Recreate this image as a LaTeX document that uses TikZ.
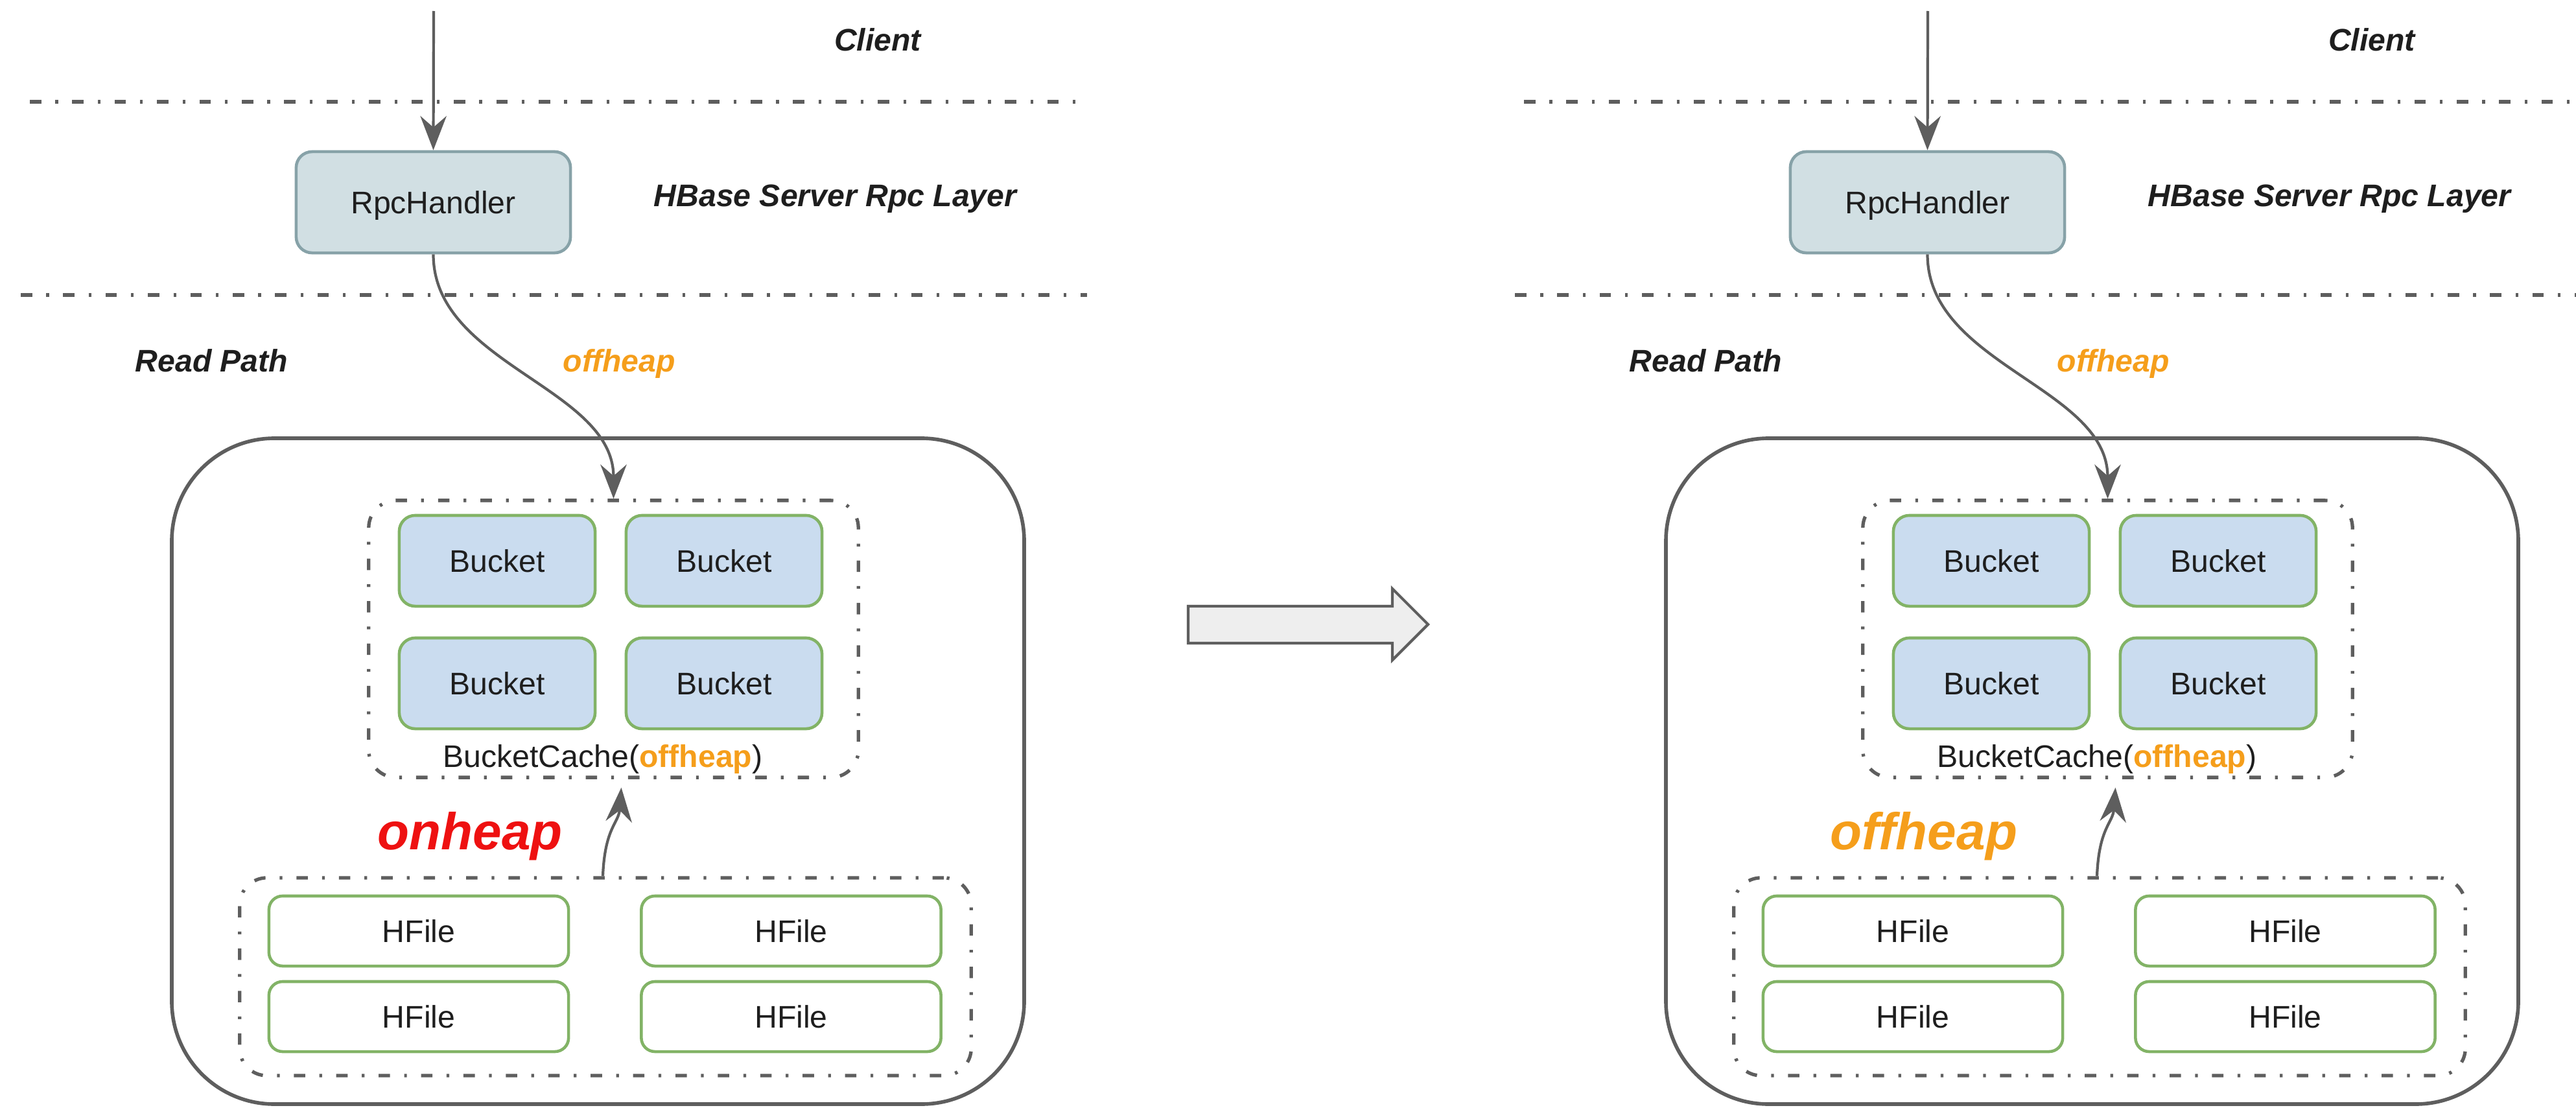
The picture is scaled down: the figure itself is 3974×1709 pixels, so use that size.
\documentclass[tikz,border=0pt]{standalone}
\usepackage{fontspec}
\setmainfont{Liberation Sans}
\usetikzlibrary{arrows.meta,calc}

\definecolor{rpcfill}{HTML}{D1DFE3}
\definecolor{rpcdraw}{HTML}{87A2A8}
\definecolor{bktfill}{HTML}{CADCEF}
\definecolor{grn}{HTML}{82B366}
\definecolor{lnc}{HTML}{5E5E5E}
\definecolor{orng}{HTML}{F59E1B}
\definecolor{redl}{HTML}{EE1111}
\definecolor{txt}{HTML}{1E1E1E}
\definecolor{arrfill}{HTML}{EEEEEE}

\newcommand\fsN{\fontsize{13.7pt}{16pt}\selectfont}
\newcommand\fsB{\fontsize{22.8pt}{26pt}\selectfont}

\tikzset{
  ddash/.style={draw=lnc, line width=1.8pt, dash pattern=on 5pt off 6.2pt on 1.2pt off 6.2pt},
  cdash/.style={draw=lnc, line width=1.5pt, dash pattern=on 5pt off 6.2pt on 1.2pt off 6.2pt, rounded corners=12pt, minimum width=1cm, minimum height=1cm, inner sep=0pt},
  outer/.style={draw=lnc, line width=1.6pt, rounded corners=45pt},
  arr/.style={draw=lnc, line width=1.2pt, -{Stealth[length=15pt,width=11.5pt,inset=5pt]}},
  boxtext/.style={font=\fsN, text=txt, text height=9.9pt, text depth=0pt, inner sep=0pt},
  rpcbox/.style={boxtext, draw=rpcdraw, fill=rpcfill, line width=1.3pt, rounded corners=7pt, minimum width=4.23cm, minimum height=1.56cm},
  bkt/.style={boxtext, draw=grn, fill=bktfill, line width=1.3pt, rounded corners=7pt, minimum width=3.02cm, minimum height=1.40cm},
  hfile/.style={boxtext, draw=grn, fill=white, line width=1.3pt, rounded corners=6pt, minimum width=4.62cm, minimum height=1.08cm},
  lbl/.style={font=\fsN\bfseries\itshape, text=txt, inner sep=0pt},
  biglbl/.style={font=\fsB\bfseries\itshape, inner sep=0pt},
  bigarrow/.style={draw=lnc, fill=arrfill, line width=1.2pt, line join=miter}
}

% #1 suffix, #2 x offset, #3 big label, #4 its colour, #5 its x centre
\newcommand\mypanel[5]{%
  \begin{scope}[shift={(#2,0)}]
    \draw[ddash] (46,157) -- (1677,157);
    \draw[ddash] (32,455) -- (1677,455);
    \node[rpcbox] (rpc#1) at (668.5,312) {RpcHandler};
    \coordinate (cl#1) at (669,17);
    \draw[arr] (cl#1) -- (rpc#1.north);
    \node[lbl, anchor=base] (client#1) at (1354,78) {Client};
    \node[lbl, anchor=base west] (layer#1) at (1008,318) {HBase Server Rpc Layer};
    \node[lbl, anchor=base west] (rp#1) at (208,573) {Read Path};
    \node[lbl, text=orng, anchor=base west] (off#1) at (868,573) {offheap};
    \draw[outer] (265,676) rectangle (1580,1703);
    \node[cdash, minimum width=7.55cm, minimum height=4.27cm] (bc#1) at (946.5,985.5) {};
    \node[bkt] (ba#1) at (767,865) {Bucket};
    \node[bkt] (bb#1) at (1117,865) {Bucket};
    \node[bkt] (bcc#1) at (767,1054) {Bucket};
    \node[bkt] (bd#1) at (1117,1054) {Bucket};
    \node[font=\fsN, text=txt, anchor=base, inner sep=0pt] (bcl#1) at (930,1183) {BucketCache(\textcolor{orng}{\textbf{offheap}})};
    \node[cdash, minimum width=11.28cm, minimum height=3.05cm] (hc#1) at (934,1506.5) {};
    \node[hfile] (ha#1) at (646,1436) {HFile};
    \node[hfile] (hb#1) at (1220.5,1436) {HFile};
    \node[hfile] (hcc#1) at (646,1568) {HFile};
    \node[hfile] (hd#1) at (1220.5,1568) {HFile};
    \draw[arr] (rpc#1.south) .. controls +(0,170) and +(0,-172) .. (bc#1.north);
    \coordinate (up#1) at ($(bc#1.south)+(12,13)$);
    \draw[arr] ([xshift=-0.04cm]hc#1.north) .. controls +(3,-75) and +(-4,55) .. (up#1);
    \node[biglbl, text=#4, anchor=base] (heap#1) at (#5,1310) {#3};
  \end{scope}}

\begin{document}
\begin{tikzpicture}[x=0.01cm,y=-0.01cm]
  \useasboundingbox (0,0) rectangle (3974,1709);
  \clip (0,0) rectangle (3974,1709);
  \mypanel{L}{0}{onheap}{redl}{725}
  \mypanel{R}{2305}{offheap}{orng}{663}
  \draw[bigarrow] (1833,935) -- (2148,935) -- (2148,908) -- (2203,963) -- (2148,1018) -- (2148,992) -- (1833,992) -- cycle;
\end{tikzpicture}
\end{document}
